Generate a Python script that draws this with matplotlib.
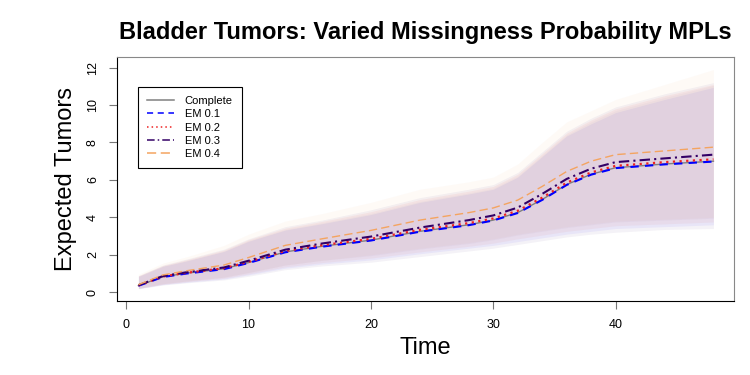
import numpy as np
import matplotlib.pyplot as plt

plt.rcParams['font.family'] = ['Liberation Sans', 'DejaVu Sans']

# time points
time = [1, 3, 5, 8, 10, 13, 16, 20, 24, 28, 30, 32, 34, 36, 38, 40, 44, 48]

labels = ['Complete', 'EM 0.1', 'EM 0.2', 'EM 0.3', 'EM 0.4']

complete = [0.35, 0.82, 1.02, 1.25, 1.58, 2.15, 2.45, 2.78, 3.25, 3.60, 3.85, 4.25, 4.95, 5.75, 6.30, 6.65, 6.85, 7.00]
em01 = [0.34, 0.81, 1.00, 1.23, 1.56, 2.13, 2.43, 2.76, 3.23, 3.58, 3.83, 4.23, 4.93, 5.73, 6.28, 6.63, 6.83, 6.98]
em02 = [0.36, 0.84, 1.04, 1.28, 1.62, 2.20, 2.51, 2.85, 3.33, 3.69, 3.94, 4.35, 5.05, 5.85, 6.40, 6.75, 6.95, 7.10]
em03 = [0.37, 0.86, 1.07, 1.32, 1.68, 2.27, 2.60, 2.97, 3.45, 3.85, 4.10, 4.52, 5.25, 6.05, 6.60, 6.95, 7.15, 7.35]
em04 = [0.40, 0.92, 1.15, 1.45, 1.85, 2.50, 2.85, 3.30, 3.85, 4.25, 4.50, 4.92, 5.65, 6.45, 7.00, 7.35, 7.55, 7.75]

complete_lo = [0.20, 0.45, 0.60, 0.80, 1.05, 1.45, 1.70, 1.95, 2.30, 2.60, 2.80, 3.05, 3.25, 3.45, 3.60, 3.75, 3.85, 3.95]
complete_hi = [0.85, 1.40, 1.70, 2.20, 2.75, 3.35, 3.70, 4.20, 4.85, 5.30, 5.55, 6.20, 7.30, 8.40, 9.10, 9.70, 10.40, 11.05]
em01_lo = [0.19, 0.40, 0.53, 0.70, 0.92, 1.28, 1.50, 1.72, 2.05, 2.35, 2.50, 2.70, 2.90, 3.10, 3.25, 3.40, 3.50, 3.60]
em01_hi = [0.84, 1.38, 1.68, 2.18, 2.72, 3.32, 3.66, 4.15, 4.80, 5.25, 5.50, 6.15, 7.25, 8.35, 9.00, 9.60, 10.30, 10.95]
em02_lo = [0.20, 0.42, 0.56, 0.74, 0.97, 1.35, 1.58, 1.82, 2.15, 2.45, 2.62, 2.85, 3.05, 3.25, 3.40, 3.55, 3.65, 3.75]
em02_hi = [0.87, 1.42, 1.74, 2.25, 2.80, 3.42, 3.78, 4.30, 4.95, 5.40, 5.65, 6.30, 7.40, 8.50, 9.20, 9.80, 10.50, 11.10]
em03_lo = [0.18, 0.38, 0.50, 0.65, 0.85, 1.20, 1.40, 1.60, 1.90, 2.20, 2.35, 2.55, 2.75, 2.95, 3.10, 3.20, 3.35, 3.40]
em03_hi = [0.88, 1.45, 1.78, 2.30, 2.85, 3.50, 3.85, 4.40, 5.05, 5.50, 5.75, 6.40, 7.50, 8.60, 9.30, 9.90, 10.60, 11.20]
em04_lo = [0.20, 0.45, 0.60, 0.80, 1.05, 1.45, 1.70, 2.00, 2.35, 2.65, 2.85, 3.10, 3.30, 3.50, 3.65, 3.80, 3.90, 4.00]
em04_hi = [0.95, 1.55, 1.90, 2.50, 3.10, 3.80, 4.20, 4.80, 5.50, 5.90, 6.15, 6.85, 8.00, 9.10, 9.70, 10.30, 11.10, 11.90]

means = [complete, em01, em02, em03, em04]
lows = [complete_lo, em01_lo, em02_lo, em03_lo, em04_lo]
highs = [complete_hi, em01_hi, em02_hi, em03_hi, em04_hi]

colors = ['#808080', '#0000ff', '#ee2222', '#330066', '#f4a460']
styles = ['-', (0, (4, 3)), (0, (1, 2)), (0, (5, 2, 1, 2)), (0, (6, 3))]
widths = [1.0, 1.5, 1.6, 1.5, 1.0]

fig = plt.figure(figsize=(7.5, 3.75), dpi=100)
ax = fig.add_axes([0.156, 0.197, 0.823, 0.651])

for lo, hi, c in zip(lows, highs, colors):
    ax.fill_between(time, lo, hi, color=c, alpha=0.05, linewidth=0)

for m, c, s, w, lab in zip(means, colors, styles, widths, labels):
    ax.plot(time, m, color=c, linestyle=s, linewidth=w, label=lab)

ax.set_xlim(-0.75, 49.7)
ax.set_ylim(-0.48, 12.57)
ax.set_xticks([0, 10, 20, 30, 40])
ax.set_yticks([0, 2, 4, 6, 8, 10, 12])
ax.tick_params(direction='out', length=6, labelsize=9, pad=7, color='#777777')
for lab in ax.get_yticklabels():
    lab.set_rotation(90)
    lab.set_va('center')

for side in ['top', 'right']:
    ax.spines[side].set_color('#888888')
for side in ['left', 'bottom']:
    ax.spines[side].set_color('black')

ax.set_title('Bladder Tumors: Varied Missingness Probability MPLs',
             fontsize=17, fontweight='bold', pad=13)
ax.set_xlabel('Time', fontsize=17, labelpad=4)
ax.set_ylabel('Expected Tumors', fontsize=17, labelpad=7)

leg = ax.legend(loc='upper left', bbox_to_anchor=(0.034, 0.877), borderaxespad=0,
                fontsize=8, handlelength=2.4, handletextpad=1.0, fancybox=False,
                framealpha=1, edgecolor='black', borderpad=0.8, labelspacing=0.3)
leg.get_frame().set_linewidth(0.8)
for line in leg.get_lines():
    line.set_linewidth(1.1)

fig.savefig('out.png', dpi=100)
